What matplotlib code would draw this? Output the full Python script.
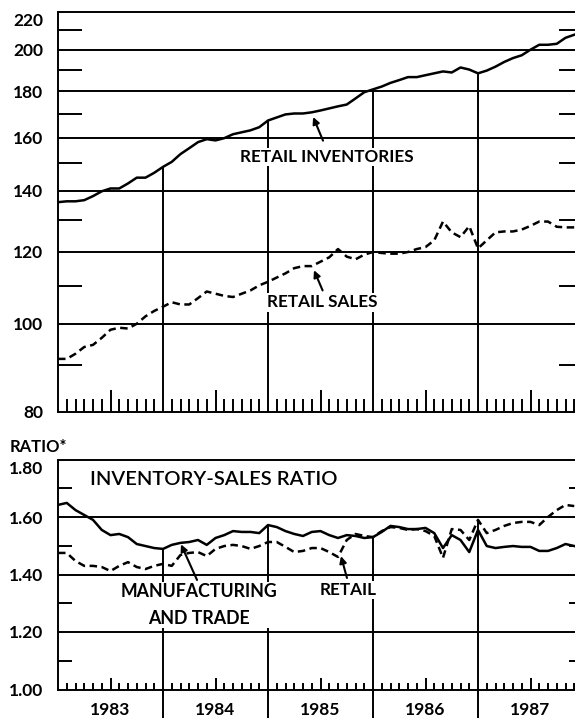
import numpy as np
import matplotlib
matplotlib.use('Agg')
import matplotlib.pyplot as plt
from matplotlib.ticker import NullFormatter

plt.rcParams['font.family'] = ['Lato', 'DejaVu Sans']
plt.rcParams['font.weight'] = 'bold'

# monthly data, jan 1983 - dec 1987
years = [1983, 1984, 1985, 1986, 1987]
retail_inventories = [136.0, 136.3, 136.3, 136.7, 138.1, 139.8, 140.8, 140.8, 142.6, 144.7, 144.7, 146.5,
                      148.7, 150.6, 153.6, 155.9, 158.3, 159.5, 159.0, 159.9, 161.5, 162.3, 163.1, 164.4,
                      167.2, 168.5, 169.8, 170.2, 170.2, 170.7, 171.5, 172.4, 173.3, 174.1, 176.8, 179.6,
                      180.9, 182.2, 183.9, 185.2, 186.6, 186.6, 187.5, 188.4, 189.3, 188.8, 191.2, 190.2,
                      188.4, 189.7, 191.6, 193.9, 195.8, 197.2, 200.0, 202.5, 202.5, 203.0, 206.1, 207.7]
retail_sales = [91.5, 91.5, 92.7, 94.3, 94.8, 96.5, 98.5, 99.0, 98.8, 100.0, 101.9, 103.3,
                104.4, 105.6, 105.0, 105.0, 106.7, 108.5, 107.9, 107.3, 107.0, 107.9, 108.8, 110.2,
                111.2, 112.4, 113.6, 115.1, 115.7, 115.7, 117.0, 118.3, 120.8, 118.5, 117.7, 119.1,
                119.9, 119.6, 119.4, 119.4, 119.9, 120.8, 121.4, 123.5, 129.5, 126.0, 124.5, 128.0,
                121.0, 123.5, 126.0, 126.3, 126.3, 126.9, 128.1, 129.5, 129.5, 127.8, 127.6, 127.6]
ratio_mfg_trade = [1.642, 1.649, 1.624, 1.607, 1.590, 1.555, 1.537, 1.541, 1.530, 1.506, 1.499, 1.492,
                   1.489, 1.503, 1.510, 1.513, 1.520, 1.503, 1.527, 1.537, 1.551, 1.548, 1.548, 1.544,
                   1.572, 1.565, 1.551, 1.541, 1.534, 1.548, 1.551, 1.537, 1.527, 1.537, 1.534, 1.527,
                   1.530, 1.548, 1.569, 1.565, 1.558, 1.558, 1.562, 1.544, 1.492, 1.537, 1.520, 1.478,
                   1.555, 1.499, 1.492, 1.496, 1.499, 1.496, 1.496, 1.482, 1.482, 1.492, 1.506, 1.499]
ratio_retail = [1.475, 1.475, 1.447, 1.430, 1.430, 1.426, 1.412, 1.430, 1.443, 1.426, 1.419, 1.430,
                1.437, 1.430, 1.468, 1.475, 1.478, 1.464, 1.489, 1.499, 1.503, 1.499, 1.489, 1.499,
                1.513, 1.513, 1.496, 1.478, 1.482, 1.492, 1.492, 1.478, 1.461, 1.520, 1.541, 1.534,
                1.530, 1.551, 1.565, 1.562, 1.555, 1.558, 1.551, 1.534, 1.458, 1.558, 1.555, 1.520,
                1.590, 1.544, 1.555, 1.569, 1.579, 1.583, 1.583, 1.572, 1.600, 1.624, 1.642, 1.638]

top_major = [80, 100, 120, 140, 160, 180, 200]
top_minor = [90, 110, 130, 150, 170, 190, 210]
bot_major = [1.0, 1.2, 1.4, 1.6]
bot_minor = [1.1, 1.3, 1.5, 1.7]

months = 1983 + np.arange(len(retail_inventories)) / 12.0
mid_years = [y + 0.5 for y in years]
month_ticks = [1983 + k / 12.0 for k in range(1, 60) if k % 6 != 0]

LW = 1.4
FS = 12.3
box = dict(facecolor='white', edgecolor='none', pad=1)
arrow = dict(arrowstyle='-|>', color='black', lw=1.5, mutation_scale=10, shrinkA=0, shrinkB=0)

fig = plt.figure(figsize=(5.75, 7.18), dpi=100)
ax1 = fig.add_axes([58 / 575, 306 / 718, 525 / 575, 400 / 718])
ax2 = fig.add_axes([58 / 575, 28.5 / 718, 525 / 575, 230 / 718])

# ---------- top panel: retail inventories and sales ----------
ax1.set_yscale('log')
ax1.set_xlim(1983, 1988)
ax1.set_ylim(80, 220)
for v in top_major[1:]:
    ax1.axhline(v, color='black', lw=LW, zorder=1)
inv = np.array(retail_inventories)
for y in years[1:]:
    i = (y - 1983) * 12
    ax1.vlines(y, 80, inv[i], color='black', lw=LW, zorder=1)
ax1.plot(months, retail_inventories, color='black', lw=1.8, zorder=3)
ax1.plot(months, retail_sales, color='black', lw=1.8, dashes=(3, 1.8), zorder=3)

ax1.set_yticks(top_major, [str(v) for v in top_major])
ax1.set_yticks(top_minor, minor=True)
ax1.yaxis.set_minor_formatter(NullFormatter())
ax1.tick_params(axis='y', which='major', length=0, pad=10.5, labelsize=12.5)
ax1.tick_params(axis='y', which='minor', direction='in', length=17, width=LW, left=True, right=True)
ax1.set_xticks(mid_years)
ax1.set_xticks(month_ticks, minor=True)
ax1.tick_params(axis='x', which='major', direction='in', length=16, width=LW, labelbottom=False)
ax1.tick_params(axis='x', which='minor', direction='in', length=9.5, width=LW)
fig.text(43 / 575, (718 - 21) / 718, '220', ha='right', va='center', fontsize=12.5)

ax1.text(1985.562, 152.5, 'RETAIL INVENTORIES', ha='center', va='center', fontsize=FS,
         bbox=box, zorder=4)
ax1.annotate('', xy=(1985.43, 168.7), xytext=(1985.524, 158.9), arrowprops=arrow, zorder=5)
ax1.text(1985.514, 105.6, 'RETAIL SALES', ha='center', va='center', fontsize=FS,
         bbox=box, zorder=4)
ax1.annotate('', xy=(1985.438, 114.5), xytext=(1985.52, 108.8), arrowprops=arrow, zorder=5)

# ---------- bottom panel: inventory-sales ratio ----------
ax2.set_xlim(1983, 1988)
ax2.set_ylim(1.0, 1.8)
for v in bot_major[1:]:
    ax2.axhline(v, color='black', lw=LW, zorder=1)
for y in years[1:]:
    i = (y - 1983) * 12
    top = max(ratio_mfg_trade[i], ratio_retail[i])
    ax2.vlines(y, 0.9, top, color='black', lw=LW, zorder=1, clip_on=False)
ax2.plot(months, ratio_mfg_trade, color='black', lw=1.8, zorder=3)
ax2.plot(months, ratio_retail, color='black', lw=1.8, dashes=(3, 1.8), zorder=3)

ax2.set_yticks(bot_major, ['%.2f' % v for v in bot_major])
ax2.set_yticks(bot_minor, minor=True)
ax2.tick_params(axis='y', which='major', length=0, pad=10.5, labelsize=12.5)
ax2.tick_params(axis='y', which='minor', direction='in', length=10, width=LW, left=True, right=True)
ax2.set_xticks(mid_years, [str(y) for y in years])
ax2.set_xticks(month_ticks, minor=True)
ax2.tick_params(axis='x', which='major', direction='in', length=8.6, width=LW, pad=9, labelsize=12.5)
ax2.tick_params(axis='x', which='minor', direction='in', length=5, width=LW)
fig.text(43 / 575, (718 - 469) / 718, '1.80', ha='right', va='center', fontsize=12.5)
fig.text(10 / 575, (718 - 447) / 718, 'RATIO*', ha='left', va='center', fontsize=12)

ax2.text(1983.305, 1.729, 'INVENTORY-SALES RATIO', ha='left', va='center', fontsize=14.5,
         fontweight='semibold', zorder=4)
ax2.text(1984.343, 1.294, 'MANUFACTURING\nAND TRADE', ha='center', va='center', fontsize=12.8,
         linespacing=1.7, bbox=box, zorder=4)
ax2.annotate('', xy=(1984.171, 1.505), xytext=(1984.324, 1.381), arrowprops=arrow, zorder=5)
ax2.text(1985.762, 1.346, 'RETAIL', ha='center', va='center', fontsize=FS, bbox=box, zorder=4)
ax2.annotate('', xy=(1985.695, 1.464), xytext=(1985.752, 1.388), arrowprops=arrow, zorder=5)

for ax in (ax1, ax2):
    ax.spines['right'].set_visible(False)
    for s in ('left', 'top', 'bottom'):
        ax.spines[s].set_linewidth(LW)

fig.savefig('out.png', dpi=100)
